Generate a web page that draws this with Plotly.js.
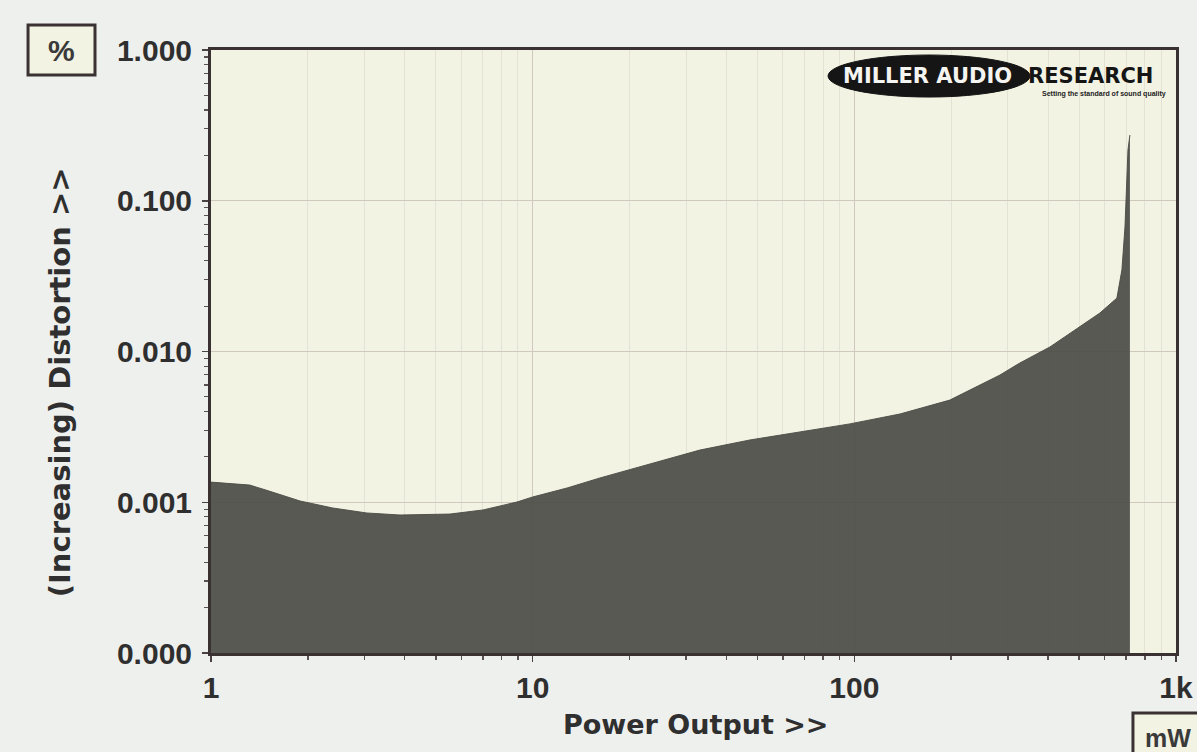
<!DOCTYPE html>
<html>
<head>
<meta charset="utf-8">
<script src="https://cdn.plot.ly/plotly-3.0.1.min.js"></script>
<style>
html,body{margin:0;padding:0;background:#eef0ee;}
#chart{width:1197px;height:752px;}
</style>
</head>
<body>
<div id="chart"></div>
<script>
// Power output (mW) and THD (%)
var powerMW = [1, 1.32, 1.49, 1.89, 2.39, 3.05, 3.87, 5.53, 7.01, 8.94, 10.0, 12.8, 16.2, 23.2, 33.1, 47.4, 67.8, 96.9, 138.6, 198, 283.6, 327, 405.6, 502, 580, 655, 679, 694, 709, 719];
var distortionPct = [0.00136, 0.00130, 0.00120, 0.00102, 0.000916, 0.000849, 0.000823, 0.000835, 0.000889, 0.001004, 0.001084, 0.001244, 0.00145, 0.001795, 0.00222, 0.00259, 0.00292, 0.00331, 0.00385, 0.00476, 0.00698, 0.00839, 0.01072, 0.01455, 0.0180, 0.0226, 0.0348, 0.067, 0.217, 0.273];

var xTickVals = [1, 10, 100, 1000];
var xTickText = ['1', '10', '100', '1k'];
var yTickVals = [0.0001, 0.001, 0.01, 0.1, 1];
var yTickText = ['0.000', '0.001', '0.010', '0.100', '1.000'];

var xTitle = 'Power Output >>';
var yTitle = '(Increasing) Distortion >>';
var yUnit = '%';
var xUnit = 'mW';

function minorLog(lo, hi) {
  var v = [];
  for (var d = lo; d < hi; d++) {
    for (var k = 2; k <= 9; k++) v.push(k * Math.pow(10, d));
  }
  return v;
}

var trace = {
  type: 'scatter',
  mode: 'lines',
  x: powerMW,
  y: distortionPct,
  fill: 'tozeroy',
  fillcolor: 'rgba(76,76,71,0.92)',
  line: {color: 'rgba(76,76,71,0.92)', width: 1},
  hoverinfo: 'skip',
  showlegend: false
};

var axisLine = '#3a3232';
var tickFont = {family: 'Liberation Sans, Arial, sans-serif', size: 30, color: '#2f2f2f', weight: 'bold'};

var layout = {
  width: 1197,
  height: 752,
  margin: {l: 211, r: 21, t: 50, b: 99, pad: 0},
  paper_bgcolor: '#eef0ee',
  plot_bgcolor: '#f3f3e4',
  showlegend: false,
  xaxis: {
    type: 'log',
    range: [0, 3],
    tickvals: xTickVals,
    ticktext: xTickText,
    ticks: 'outside',
    ticklen: 6,
    tickwidth: 1.5,
    tickcolor: '#4a4242',
    ticklabelstandoff: 0,
    showline: true,
    linecolor: axisLine,
    linewidth: 3,
    mirror: true,
    showgrid: true,
    gridcolor: '#cfc8bd',
    gridwidth: 1.2,
    zeroline: false,
    tickfont: tickFont,
    minor: {
      tickvals: minorLog(0, 3),
      ticks: 'outside',
      ticklen: 4,
      tickwidth: 1.5,
      tickcolor: '#5a5252',
      showgrid: true,
      gridcolor: '#e3e2d4',
      gridwidth: 1
    }
  },
  yaxis: {
    type: 'log',
    range: [-4, 0],
    tickvals: yTickVals,
    ticktext: yTickText,
    ticks: 'outside',
    ticklen: 6,
    tickwidth: 1.5,
    tickcolor: '#4a4242',
    ticklabelstandoff: 4,
    showline: true,
    linecolor: axisLine,
    linewidth: 3,
    mirror: true,
    showgrid: true,
    gridcolor: '#cfc8bd',
    gridwidth: 1.2,
    zeroline: false,
    tickfont: tickFont,
    minor: {
      tickvals: minorLog(-4, 0),
      ticks: 'outside',
      ticklen: 4,
      tickwidth: 1.2,
      tickcolor: '#5a5252',
      showgrid: false
    }
  },
  shapes: [
    {type: 'rect', xref: 'paper', yref: 'paper', x0: -0.1896, x1: -0.1202, y0: 0.9585, y1: 1.0415,
     fillcolor: '#f3f3e4', line: {color: '#3a3232', width: 3}},
    {type: 'rect', xref: 'paper', yref: 'paper', x0: 0.9554, x1: 1.06, y0: -0.0995, y1: -0.2,
     fillcolor: '#f3f3e4', line: {color: '#3a3232', width: 3}},
    {type: 'circle', xref: 'paper', yref: 'paper', x0: 0.6394, x1: 0.8487, y0: 0.922, y1: 0.9917,
     fillcolor: '#151515', line: {color: '#151515', width: 1}}
  ],
  annotations: [
    {text: yTitle, xref: 'paper', yref: 'paper', x: -0.1565, y: 0.449, textangle: -90, showarrow: false,
     xanchor: 'center', yanchor: 'middle',
     font: {family: 'DejaVu Sans, sans-serif', size: 29, color: '#2f2f2f', weight: 'bold'}},
    {text: xTitle, xref: 'paper', yref: 'paper', x: 0.503, y: -0.119, showarrow: false,
     xanchor: 'center', yanchor: 'middle',
     font: {family: 'DejaVu Sans, sans-serif', size: 27, color: '#2f2f2f', weight: 'bold'}},
    {text: yUnit, xref: 'paper', yref: 'paper', x: -0.155, y: 1.0, showarrow: false,
     xanchor: 'center', yanchor: 'middle',
     font: {family: 'Liberation Sans, Arial, sans-serif', size: 30, color: '#3a3a3a', weight: 'bold'}},
    {text: xUnit, xref: 'paper', yref: 'paper', x: 0.966, y: -0.141, showarrow: false,
     xanchor: 'left', yanchor: 'middle',
     font: {family: 'Liberation Sans, Arial, sans-serif', size: 25, color: '#3a3a3a', weight: 'bold'}},
    {text: 'MILLER AUDIO', xref: 'paper', yref: 'paper', x: 0.743, y: 0.957, showarrow: false,
     xanchor: 'center', yanchor: 'middle',
     font: {family: 'DejaVu Sans, sans-serif', size: 21, color: '#f4f4f0', weight: 'bold'}},
    {text: 'RESEARCH', xref: 'paper', yref: 'paper', x: 0.8446, y: 0.957, showarrow: false,
     xanchor: 'left', yanchor: 'middle',
     font: {family: 'DejaVu Sans, sans-serif', size: 21, color: '#151515', weight: 'bold'}},
    {text: 'Setting the standard of sound quality', xref: 'paper', yref: 'paper', x: 0.9917, y: 0.927, showarrow: false,
     xanchor: 'right', yanchor: 'middle',
     font: {family: 'Liberation Sans, Arial, sans-serif', size: 7, color: '#222222', weight: 'bold'}}
  ]
};

Plotly.newPlot('chart', [trace], layout, {displayModeBar: false, staticPlot: true});
</script>
</body>
</html>
